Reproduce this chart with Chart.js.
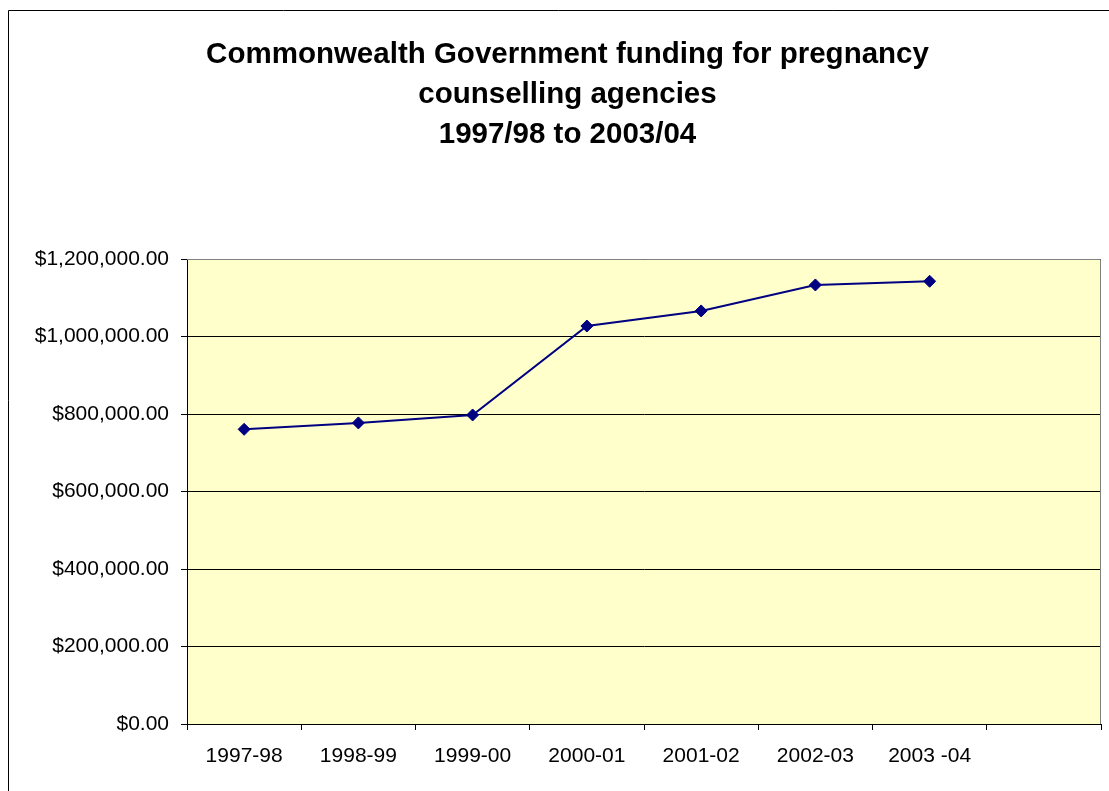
<!DOCTYPE html>
<html>
<head>
<meta charset="utf-8">
<title>Commonwealth Government funding for pregnancy counselling agencies</title>
<script src="https://cdn.jsdelivr.net/npm/chart.js@4.4.1/dist/chart.umd.min.js"></script>
<style>
  html, body { margin: 0; padding: 0; background: #fff; }
  #wrap { width: 1109px; height: 791px; position: relative; }
</style>
</head>
<body>
<div id="wrap"><canvas id="fundingChart" width="1109" height="791"></canvas></div>
<script>
// --- Data ---
const years = ['1997-98', '1998-99', '1999-00', '2000-01', '2001-02', '2002-03', '2003 -04', ''];
const funding = [760500, 777000, 797500, 1027000, 1066000, 1133000, 1142500];
const yTicks = [0, 200000, 400000, 600000, 800000, 1000000, 1200000];
const titleLines = ['Commonwealth Government funding for pregnancy', 'counselling agencies', '1997/98 to 2003/04'];

const fontFamily = 'Arial, "Liberation Sans", sans-serif';

function money(v) {
    return '$' + v.toLocaleString('en-US', { minimumFractionDigits: 2, maximumFractionDigits: 2 });
}

// plot background, gray top/right frame and the outer chart border
const frame = {
    id: 'frame',
    beforeDraw(chart) {
        const { ctx, chartArea: a } = chart;
        ctx.save();
        ctx.fillStyle = '#ffffcc';
        ctx.fillRect(a.left, a.top, a.right - a.left, a.bottom - a.top);
        ctx.restore();
    },
    afterDraw(chart) {
        const { ctx, chartArea: a } = chart;
        ctx.save();
        ctx.strokeStyle = '#808080';
        ctx.lineWidth = 1;
        ctx.beginPath();
        ctx.moveTo(a.left, a.top + 0.5);
        ctx.lineTo(a.right - 0.5, a.top + 0.5);
        ctx.lineTo(a.right - 0.5, a.bottom);
        ctx.stroke();
        ctx.strokeStyle = '#000';
        ctx.beginPath();
        ctx.moveTo(8.5, chart.height);
        ctx.lineTo(8.5, 10.5);
        ctx.lineTo(chart.width, 10.5);
        ctx.stroke();
        ctx.restore();
    }
};

const ctx = document.getElementById('fundingChart').getContext('2d');
const chart = new Chart(ctx, {
    type: 'line',
    data: {
        labels: years,
        datasets: [{
            label: 'Funding',
            data: funding,
            borderColor: '#000080',
            backgroundColor: '#000080',
            borderWidth: 2,
            pointStyle: 'rectRot',
            pointRadius: 6,
            pointBorderWidth: 1,
            pointBackgroundColor: '#000080',
            pointBorderColor: '#000080',
            tension: 0,
            fill: false
        }]
    },
    options: {
        responsive: false,
        animation: false,
        layout: { padding: { left: 34, right: 8, top: 0, bottom: 0 } },
        plugins: {
            legend: { display: false },
            tooltip: { enabled: false },
            title: {
                display: true,
                text: titleLines,
                color: '#000',
                font: { family: fontFamily, size: 29.5, weight: 'bold', lineHeight: 40 / 29.5 },
                padding: { top: 35, bottom: 104 }
            }
        },
        scales: {
            x: {
                offset: true,
                grid: {
                    display: true,
                    offset: true,
                    drawOnChartArea: false,
                    drawTicks: true,
                    tickLength: 6,
                    color: '#000'
                },
                border: { display: true, color: '#000', width: 1 },
                ticks: {
                    color: '#000',
                    font: { family: fontFamily, size: 21 },
                    padding: 14,
                    maxRotation: 0,
                    autoSkip: false
                },
                afterFit(scale) { scale.height = 67; }
            },
            y: {
                min: 0,
                max: 1200000,
                afterBuildTicks(scale) { scale.ticks = yTicks.map(v => ({ value: v })); },
                grid: {
                    color: '#000',
                    lineWidth: 1,
                    tickLength: 6,
                    drawTicks: true
                },
                border: { display: true, color: '#000', width: 1 },
                ticks: {
                    color: '#000',
                    font: { family: fontFamily, size: 21 },
                    padding: 12,
                    callback: v => money(v)
                },
                afterFit(scale) { scale.width = 153; }
            }
        }
    },
    plugins: [frame]
});
</script>
</body>
</html>
